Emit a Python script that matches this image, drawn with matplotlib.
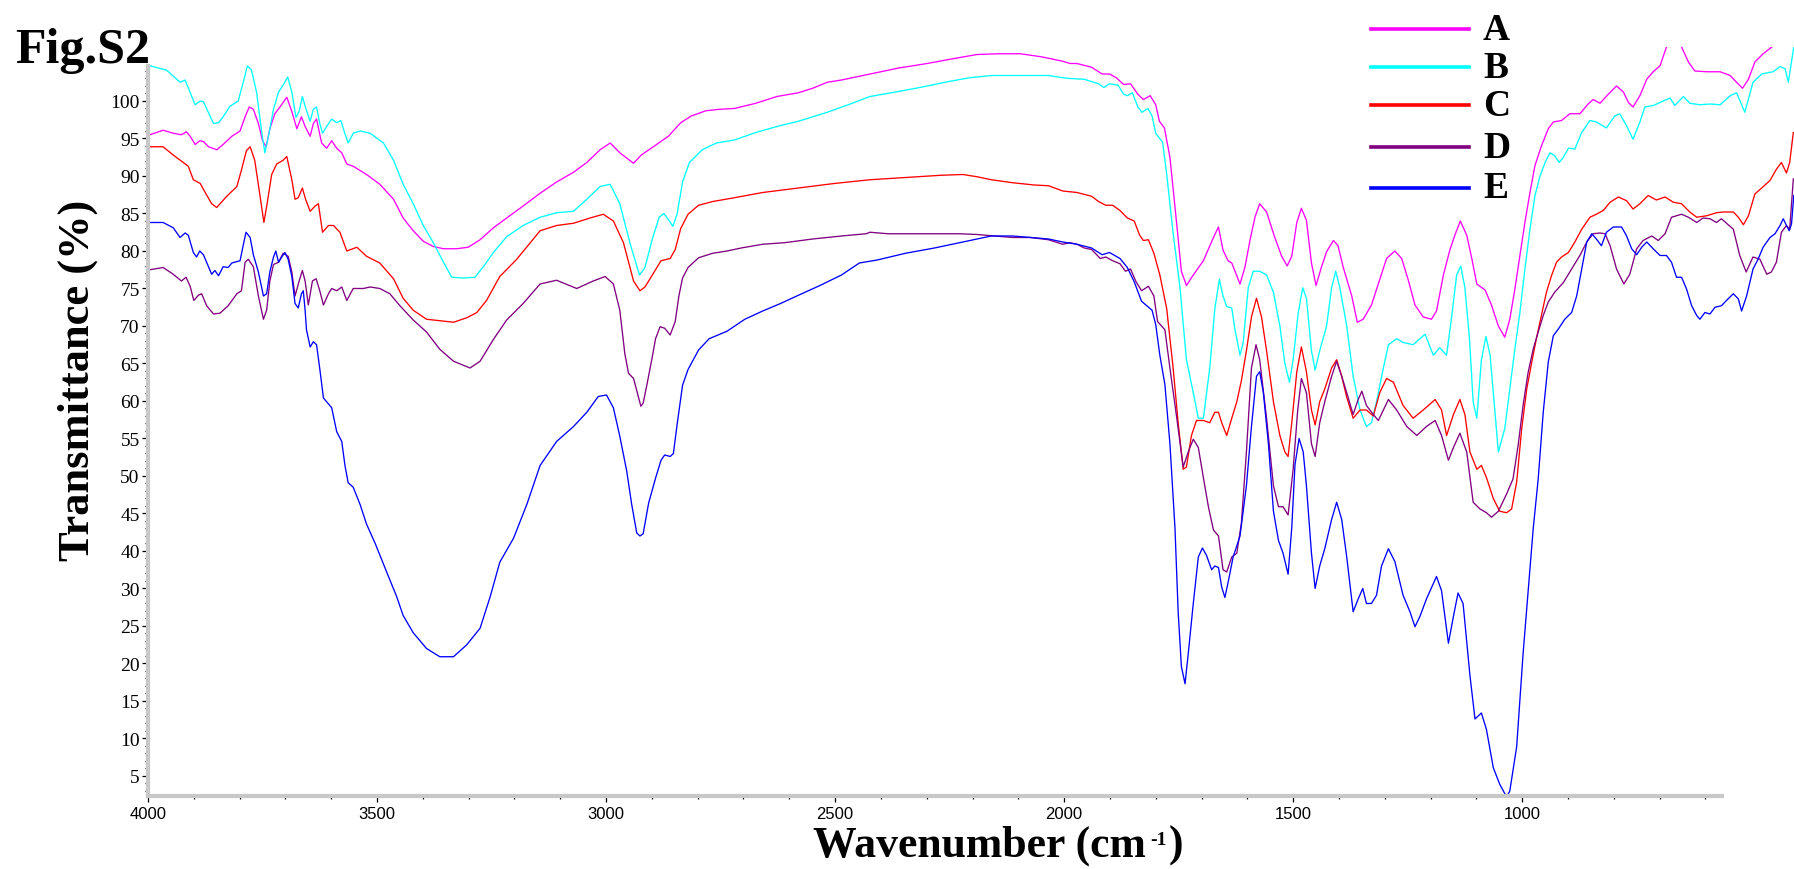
import matplotlib
matplotlib.use('Agg')
import matplotlib.pyplot as plt
from matplotlib.lines import Line2D
from matplotlib.ticker import FixedLocator

# (wavenumber cm-1, transmittance), one list per sample
spec_a = [(4000, 95.5), (3996, 95.5), (3967, 96.1), (3945, 95.7), (3927, 95.5), (3916, 95.9), (3908, 95.3),
          (3897, 94.2), (3887, 94.7), (3879, 94.6), (3868, 93.9), (3850, 93.5), (3836, 94.2), (3817, 95.3),
          (3799, 96.0), (3788, 97.9), (3779, 99.2), (3770, 98.9), (3759, 97.0), (3750, 94.7), (3742, 93.9),
          (3734, 96.3), (3723, 98.3), (3712, 99.2), (3697, 100.5), (3686, 98.6), (3675, 96.3), (3665, 97.9),
          (3657, 96.6), (3646, 95.3), (3639, 97.0), (3632, 97.6), (3621, 94.4), (3610, 93.7), (3599, 94.7),
          (3588, 93.7), (3577, 93.1), (3566, 91.6), (3552, 91.3), (3523, 90.2), (3494, 88.9), (3464, 86.9),
          (3443, 84.4), (3421, 82.7), (3399, 81.3), (3377, 80.6), (3355, 80.3), (3326, 80.3), (3301, 80.5),
          (3275, 81.5), (3246, 83.1), (3217, 84.4), (3181, 86.0), (3144, 87.7), (3108, 89.2), (3071, 90.5),
          (3042, 91.8), (3013, 93.5), (2991, 94.4), (2970, 93.1), (2940, 91.7), (2923, 92.8), (2892, 94.1),
          (2864, 95.3), (2837, 97.1), (2814, 98.0), (2782, 98.7), (2751, 98.9), (2720, 99.0), (2673, 99.7),
          (2627, 100.6), (2580, 101.1), (2549, 101.7), (2517, 102.5), (2486, 102.8), (2424, 103.6),
          (2361, 104.4), (2299, 105.0), (2237, 105.7), (2190, 106.2), (2143, 106.3), (2096, 106.3),
          (2050, 105.9), (2003, 105.3), (1987, 105.0), (1972, 105.0), (1940, 104.5), (1917, 103.6),
          (1901, 103.6), (1886, 103.1), (1870, 102.2), (1855, 102.3), (1839, 100.9), (1827, 100.2),
          (1812, 100.7), (1800, 99.5), (1792, 97.3), (1781, 96.4), (1769, 92.5), (1754, 83.5), (1744, 77.3),
          (1733, 75.4), (1718, 76.8), (1696, 78.7), (1674, 81.8), (1663, 83.2), (1653, 80.1), (1642, 78.7),
          (1634, 78.4), (1616, 75.6), (1605, 77.9), (1594, 81.5), (1583, 84.6), (1573, 86.3), (1558, 85.2),
          (1540, 81.8), (1525, 79.3), (1513, 78.0), (1503, 79.3), (1492, 83.8), (1482, 85.7), (1471, 84.1),
          (1460, 78.4), (1450, 75.4), (1438, 77.9), (1427, 79.9), (1412, 81.4), (1402, 80.7), (1391, 77.9),
          (1372, 74.0), (1360, 70.5), (1347, 70.9), (1329, 72.8), (1311, 76.2), (1296, 79.0), (1278, 80.0),
          (1263, 79.0), (1249, 76.2), (1234, 72.8), (1216, 71.2), (1198, 70.9), (1187, 72.0), (1172, 76.8),
          (1158, 80.1), (1147, 82.1), (1135, 84.0), (1121, 82.1), (1110, 79.0), (1099, 75.6), (1081, 74.8),
          (1067, 72.8), (1052, 70.0), (1038, 68.5), (1027, 70.9), (1016, 74.9), (1005, 79.4), (994, 83.8),
          (983, 87.8), (972, 91.4), (958, 94.0), (943, 96.3), (932, 97.2), (914, 97.4), (896, 98.3),
          (874, 98.3), (856, 99.6), (845, 100.2), (830, 99.7), (812, 100.9), (794, 102.0), (779, 101.2),
          (768, 99.8), (758, 99.2), (743, 100.7), (728, 102.9), (714, 103.9), (699, 104.7), (685, 107.2),
          (669, 109.0), (652, 107.2), (637, 105.2), (623, 104.0), (597, 103.9), (568, 103.9), (546, 103.4),
          (532, 102.5), (519, 101.7), (506, 102.9), (492, 105.2), (474, 106.3), (455, 107.2), (437, 108.5),
          (407, 110.0)]

spec_b = [(4000, 104.7), (3996, 104.7), (3959, 104.1), (3930, 102.5), (3919, 102.8), (3897, 99.5), (3886, 100.0),
          (3879, 99.9), (3857, 97.0), (3846, 97.1), (3836, 97.9), (3821, 99.3), (3803, 100.0), (3792, 102.5),
          (3783, 104.7), (3774, 104.1), (3763, 101.2), (3752, 96.0), (3745, 93.1), (3737, 95.3), (3726, 98.9),
          (3715, 101.2), (3705, 102.1), (3695, 103.2), (3686, 101.2), (3677, 97.8), (3670, 98.6), (3663, 100.6),
          (3657, 99.3), (3646, 97.3), (3639, 98.9), (3632, 99.2), (3625, 97.0), (3619, 95.7), (3610, 96.6),
          (3599, 97.6), (3588, 97.1), (3579, 97.4), (3572, 96.0), (3563, 94.4), (3552, 95.7), (3537, 96.0),
          (3515, 95.7), (3486, 94.4), (3464, 92.1), (3443, 88.9), (3421, 86.3), (3399, 83.4), (3377, 81.1),
          (3355, 78.5), (3337, 76.5), (3312, 76.4), (3286, 76.5), (3268, 77.9), (3246, 79.8), (3217, 81.9),
          (3181, 83.4), (3144, 84.5), (3108, 85.1), (3071, 85.3), (3042, 86.9), (3013, 88.6), (2991, 88.9),
          (2970, 86.3), (2948, 81.1), (2927, 76.8), (2915, 77.8), (2899, 81.6), (2884, 84.5), (2874, 85.0),
          (2864, 84.2), (2854, 83.3), (2845, 84.9), (2833, 89.2), (2818, 91.8), (2790, 93.5), (2759, 94.4),
          (2720, 94.8), (2673, 95.8), (2627, 96.6), (2580, 97.3), (2517, 98.5), (2471, 99.5), (2424, 100.6),
          (2377, 101.1), (2315, 101.8), (2252, 102.6), (2206, 103.1), (2159, 103.4), (2112, 103.4),
          (2065, 103.4), (2034, 103.4), (2003, 103.1), (1987, 103.0), (1956, 102.9), (1925, 102.3),
          (1913, 101.8), (1901, 102.3), (1882, 102.1), (1870, 100.9), (1862, 100.7), (1851, 101.1),
          (1839, 99.2), (1830, 98.5), (1817, 99.0), (1808, 98.0), (1800, 95.7), (1785, 94.5), (1776, 90.2),
          (1762, 82.4), (1747, 75.1), (1733, 65.5), (1718, 61.1), (1707, 57.7), (1696, 57.7), (1682, 64.4),
          (1671, 72.3), (1661, 76.2), (1653, 74.0), (1645, 72.6), (1634, 72.4), (1627, 69.5), (1616, 66.1),
          (1609, 67.8), (1598, 75.1), (1587, 77.3), (1573, 77.3), (1558, 76.8), (1543, 74.5), (1529, 70.0),
          (1518, 65.0), (1508, 62.5), (1500, 65.5), (1489, 71.7), (1479, 75.1), (1471, 73.7), (1460, 66.7),
          (1452, 64.1), (1442, 66.7), (1427, 70.0), (1416, 75.1), (1407, 77.3), (1398, 75.1), (1383, 70.0),
          (1369, 63.3), (1354, 58.8), (1340, 56.6), (1329, 57.1), (1318, 59.9), (1303, 64.4), (1292, 67.5),
          (1274, 68.3), (1260, 67.8), (1238, 67.5), (1223, 68.3), (1212, 68.9), (1201, 67.2), (1194, 66.1),
          (1180, 67.1), (1165, 66.1), (1154, 71.2), (1143, 76.8), (1134, 78.0), (1125, 75.1), (1115, 68.3),
          (1107, 59.9), (1099, 57.7), (1089, 65.5), (1079, 68.6), (1070, 66.1), (1063, 61.1), (1052, 53.2),
          (1038, 56.3), (1027, 61.6), (1016, 66.9), (1005, 71.8), (994, 77.6), (983, 82.9), (972, 87.4),
          (961, 90.0), (950, 91.8), (939, 93.1), (929, 92.7), (919, 91.8), (910, 92.5), (899, 93.7),
          (885, 93.6), (870, 95.8), (852, 97.4), (838, 97.2), (816, 96.4), (798, 98.0), (787, 98.3),
          (772, 96.7), (758, 94.9), (743, 97.2), (732, 99.2), (714, 99.4), (692, 100.0), (677, 100.4),
          (667, 99.4), (648, 100.6), (634, 99.7), (612, 99.5), (590, 99.6), (568, 99.5), (546, 100.7),
          (532, 101.1), (514, 98.5), (496, 102.5), (477, 103.6), (452, 103.9), (437, 104.6), (426, 104.3),
          (419, 102.5), (412, 105.2), (407, 107.2)]

spec_c = [(4000, 93.9), (3996, 93.9), (3967, 93.9), (3945, 92.8), (3923, 91.8), (3912, 91.3), (3901, 89.5),
          (3886, 89.0), (3876, 87.9), (3861, 86.3), (3850, 85.8), (3828, 87.3), (3806, 88.6), (3796, 90.8),
          (3785, 93.4), (3777, 93.9), (3767, 92.1), (3756, 87.6), (3747, 83.8), (3740, 86.3), (3730, 90.2),
          (3719, 91.6), (3705, 92.1), (3697, 92.6), (3686, 89.5), (3679, 86.9), (3672, 87.1), (3663, 88.4),
          (3656, 86.9), (3646, 85.3), (3635, 86.0), (3628, 86.3), (3619, 82.5), (3606, 83.4), (3595, 83.4),
          (3581, 82.5), (3566, 80.0), (3544, 80.5), (3523, 79.3), (3494, 78.4), (3464, 76.3), (3443, 73.7),
          (3421, 72.1), (3392, 70.9), (3363, 70.7), (3333, 70.5), (3304, 71.1), (3282, 71.8), (3261, 73.4),
          (3232, 76.6), (3195, 78.9), (3144, 82.7), (3108, 83.4), (3071, 83.7), (3035, 84.4), (3006, 84.9),
          (2984, 84.0), (2962, 81.1), (2940, 76.0), (2926, 74.7), (2915, 75.2), (2899, 76.8), (2880, 78.7),
          (2860, 79.0), (2849, 80.2), (2837, 83.0), (2821, 84.9), (2798, 86.1), (2767, 86.6), (2720, 87.1),
          (2658, 87.8), (2580, 88.4), (2502, 89.0), (2424, 89.5), (2346, 89.8), (2268, 90.1), (2221, 90.2),
          (2190, 89.9), (2159, 89.5), (2112, 89.1), (2065, 88.8), (2034, 88.7), (2003, 88.0), (1972, 87.8),
          (1940, 87.3), (1925, 86.6), (1909, 86.1), (1894, 86.1), (1878, 85.4), (1862, 84.4), (1847, 84.0),
          (1835, 82.1), (1827, 81.4), (1816, 81.5), (1804, 79.7), (1791, 76.8), (1776, 72.3), (1762, 64.4),
          (1751, 57.1), (1740, 50.9), (1733, 51.2), (1722, 55.4), (1711, 57.4), (1696, 57.4), (1682, 57.1),
          (1671, 58.5), (1663, 58.5), (1656, 57.1), (1645, 55.4), (1634, 57.7), (1623, 59.9), (1613, 62.7),
          (1602, 66.7), (1591, 71.2), (1580, 73.7), (1569, 71.2), (1558, 66.7), (1543, 59.9), (1529, 55.4),
          (1518, 53.2), (1511, 52.6), (1503, 57.1), (1492, 63.9), (1482, 67.2), (1471, 63.9), (1460, 58.8),
          (1452, 56.8), (1442, 59.9), (1431, 61.6), (1416, 64.4), (1405, 65.5), (1394, 63.3), (1383, 60.5),
          (1369, 57.7), (1354, 58.8), (1340, 58.8), (1325, 58.0), (1311, 61.1), (1296, 63.0), (1281, 62.5),
          (1260, 59.4), (1238, 57.7), (1216, 58.8), (1190, 60.2), (1176, 58.8), (1165, 55.4), (1150, 58.2),
          (1136, 60.2), (1125, 58.2), (1114, 53.2), (1099, 50.9), (1089, 51.4), (1078, 49.8), (1063, 47.0),
          (1049, 45.3), (1034, 45.1), (1023, 45.6), (1012, 49.2), (1001, 56.3), (990, 61.6), (979, 65.2),
          (969, 68.3), (958, 71.4), (947, 74.5), (936, 76.7), (925, 78.5), (914, 79.2), (899, 79.8),
          (885, 81.2), (870, 82.9), (852, 84.5), (838, 84.9), (823, 85.4), (808, 86.5), (790, 87.2),
          (772, 86.7), (758, 85.6), (743, 86.3), (725, 87.4), (707, 86.8), (688, 87.2), (670, 86.5),
          (652, 86.3), (634, 85.2), (619, 84.5), (597, 84.7), (576, 85.1), (561, 85.2), (539, 85.2),
          (528, 84.5), (517, 83.5), (506, 84.7), (492, 87.6), (477, 88.4), (459, 89.4), (445, 90.9),
          (434, 91.8), (423, 90.4), (416, 91.8), (408, 95.8)]

spec_d = [(4000, 77.5), (3996, 77.5), (3967, 77.8), (3945, 76.9), (3927, 76.0), (3917, 76.5), (3908, 75.3),
          (3900, 73.4), (3890, 74.1), (3883, 74.3), (3872, 72.7), (3857, 71.6), (3843, 71.7), (3825, 72.7),
          (3806, 74.3), (3796, 74.7), (3788, 78.5), (3781, 78.9), (3770, 77.9), (3759, 74.0), (3748, 70.9),
          (3741, 72.1), (3734, 76.0), (3726, 78.2), (3715, 78.5), (3705, 79.7), (3694, 79.3), (3686, 77.2),
          (3679, 74.0), (3670, 76.0), (3663, 77.4), (3657, 76.0), (3650, 72.8), (3641, 76.0), (3633, 76.3),
          (3625, 74.7), (3617, 72.8), (3606, 74.3), (3599, 75.0), (3588, 74.7), (3577, 75.2), (3566, 73.4),
          (3552, 75.0), (3530, 75.0), (3515, 75.2), (3494, 75.0), (3472, 74.3), (3450, 72.7), (3421, 70.8),
          (3392, 69.2), (3363, 66.9), (3333, 65.3), (3297, 64.4), (3275, 65.3), (3246, 68.2), (3217, 70.8),
          (3181, 73.0), (3144, 75.6), (3108, 76.1), (3064, 75.0), (3028, 76.0), (3002, 76.6), (2984, 75.6),
          (2970, 72.1), (2959, 66.3), (2951, 63.7), (2940, 63.0), (2924, 59.3), (2919, 59.7), (2911, 62.1),
          (2899, 65.9), (2892, 68.3), (2882, 69.9), (2872, 69.7), (2860, 68.8), (2849, 70.6), (2841, 74.0),
          (2833, 76.4), (2821, 77.8), (2798, 79.1), (2767, 79.7), (2736, 80.0), (2705, 80.4), (2658, 80.9),
          (2611, 81.1), (2549, 81.6), (2486, 82.0), (2432, 82.3), (2424, 82.5), (2385, 82.3), (2307, 82.3),
          (2229, 82.3), (2190, 82.2), (2151, 82.0), (2112, 81.8), (2073, 81.8), (2034, 81.5), (2003, 80.9),
          (1987, 81.1), (1972, 80.9), (1956, 80.4), (1940, 80.2), (1921, 79.0), (1909, 79.2), (1894, 78.7),
          (1878, 78.3), (1866, 77.3), (1855, 77.6), (1843, 75.9), (1831, 74.7), (1816, 75.3), (1804, 74.0),
          (1796, 70.6), (1780, 69.5), (1769, 64.4), (1754, 57.7), (1740, 51.2), (1729, 53.2), (1718, 54.9),
          (1707, 53.8), (1696, 49.8), (1685, 45.9), (1674, 42.8), (1663, 42.0), (1653, 37.5), (1645, 37.2),
          (1634, 39.2), (1623, 39.7), (1613, 43.7), (1602, 53.2), (1591, 64.4), (1581, 67.5), (1573, 65.5),
          (1558, 57.7), (1543, 48.7), (1532, 45.9), (1522, 45.9), (1511, 44.8), (1500, 50.9), (1490, 58.8),
          (1482, 63.0), (1471, 61.1), (1460, 54.3), (1452, 52.6), (1442, 57.1), (1431, 59.9), (1416, 63.3),
          (1405, 65.3), (1394, 63.3), (1383, 61.1), (1369, 58.2), (1358, 60.2), (1350, 61.3), (1340, 59.4),
          (1325, 58.2), (1314, 57.4), (1303, 58.8), (1292, 60.2), (1274, 58.8), (1252, 56.6), (1230, 55.4),
          (1209, 56.6), (1190, 57.4), (1176, 55.4), (1161, 52.1), (1150, 53.8), (1136, 55.7), (1121, 53.2),
          (1107, 46.5), (1092, 45.6), (1078, 45.1), (1067, 44.5), (1052, 45.3), (1034, 47.6), (1020, 49.6),
          (1009, 54.0), (998, 59.4), (987, 63.8), (976, 66.9), (965, 69.2), (954, 71.4), (943, 73.2),
          (929, 74.5), (910, 75.8), (892, 77.6), (874, 79.4), (859, 81.2), (845, 82.3), (830, 82.4),
          (819, 82.3), (808, 80.7), (794, 77.6), (778, 75.6), (765, 76.9), (750, 80.3), (736, 81.4),
          (717, 82.0), (703, 81.4), (688, 82.3), (674, 84.5), (663, 84.7), (652, 84.9), (637, 84.5),
          (619, 83.8), (605, 84.4), (590, 84.3), (576, 83.8), (565, 84.3), (554, 83.7), (539, 82.9),
          (525, 79.4), (511, 77.2), (496, 79.2), (481, 78.9), (466, 76.9), (456, 77.2), (445, 78.5),
          (434, 82.5), (423, 83.4), (416, 82.9), (408, 89.6)]

spec_e = [(4000, 83.8), (3996, 83.8), (3967, 83.8), (3945, 83.1), (3930, 81.8), (3919, 82.4), (3912, 82.1),
          (3901, 79.8), (3894, 79.2), (3887, 80.0), (3879, 79.5), (3868, 77.9), (3861, 76.9), (3854, 77.4),
          (3846, 76.7), (3836, 77.9), (3825, 77.8), (3817, 78.4), (3799, 78.7), (3792, 80.8), (3786, 82.5),
          (3777, 81.8), (3770, 79.5), (3759, 77.2), (3748, 74.0), (3741, 74.3), (3734, 77.2), (3726, 79.2),
          (3721, 80.0), (3715, 78.5), (3708, 79.2), (3701, 79.8), (3694, 78.9), (3686, 76.6), (3679, 73.0),
          (3672, 72.4), (3665, 74.3), (3661, 74.7), (3657, 72.1), (3654, 69.5), (3646, 67.2), (3639, 67.9),
          (3632, 67.5), (3625, 64.3), (3617, 60.4), (3599, 59.1), (3588, 55.9), (3577, 54.6), (3570, 51.4),
          (3563, 49.1), (3552, 48.5), (3537, 46.2), (3523, 43.6), (3504, 41.0), (3479, 37.2), (3457, 33.9),
          (3443, 31.4), (3421, 29.1), (3392, 27.0), (3363, 25.9), (3333, 25.9), (3304, 27.5), (3275, 29.7),
          (3253, 33.9), (3232, 38.5), (3202, 41.7), (3173, 46.2), (3144, 51.4), (3108, 54.6), (3071, 56.6),
          (3042, 58.5), (3017, 60.6), (2999, 60.8), (2984, 59.1), (2970, 55.3), (2955, 50.7), (2944, 46.2),
          (2933, 42.4), (2926, 42.0), (2919, 42.3), (2907, 46.4), (2892, 49.7), (2880, 52.1), (2872, 52.8),
          (2860, 52.6), (2853, 53.0), (2845, 56.8), (2833, 62.1), (2821, 64.2), (2798, 66.8), (2775, 68.3),
          (2736, 69.3), (2697, 70.9), (2658, 72.0), (2619, 73.0), (2580, 74.1), (2533, 75.4), (2486, 76.8),
          (2447, 78.4), (2408, 78.8), (2346, 79.7), (2283, 80.4), (2221, 81.2), (2159, 82.0), (2112, 82.0),
          (2073, 81.8), (2034, 81.6), (2003, 81.2), (1972, 80.9), (1940, 80.4), (1917, 79.5), (1901, 79.8),
          (1878, 79.0), (1862, 77.8), (1847, 75.9), (1831, 73.3), (1808, 72.1), (1800, 70.2), (1791, 66.1),
          (1780, 62.2), (1769, 54.3), (1758, 43.1), (1751, 31.9), (1744, 24.6), (1736, 22.3), (1729, 26.3),
          (1718, 33.0), (1707, 39.2), (1698, 40.4), (1689, 39.4), (1678, 37.5), (1671, 38.0), (1663, 37.8),
          (1656, 35.2), (1649, 33.8), (1642, 35.8), (1631, 39.2), (1616, 42.0), (1602, 48.7), (1591, 56.6),
          (1580, 63.3), (1573, 63.9), (1565, 61.1), (1554, 54.3), (1543, 45.3), (1532, 41.4), (1522, 39.7),
          (1511, 36.9), (1503, 43.1), (1496, 51.5), (1487, 55.0), (1478, 53.2), (1471, 48.7), (1460, 39.7),
          (1452, 35.0), (1442, 38.0), (1431, 40.3), (1416, 44.2), (1405, 46.5), (1394, 44.2), (1383, 39.2),
          (1369, 31.9), (1358, 33.6), (1348, 35.0), (1340, 33.0), (1329, 33.0), (1318, 34.1), (1307, 38.0),
          (1292, 40.3), (1278, 38.6), (1260, 34.1), (1245, 31.9), (1234, 29.9), (1223, 31.3), (1209, 33.6),
          (1187, 36.6), (1176, 34.7), (1161, 27.7), (1150, 31.3), (1140, 34.4), (1129, 33.0), (1114, 23.4),
          (1103, 17.6), (1089, 18.4), (1078, 16.2), (1063, 11.1), (1049, 8.9), (1034, 7.2), (1027, 8.0),
          (1012, 13.9), (998, 26.3), (976, 42.9), (965, 49.6), (954, 58.5), (943, 65.2), (932, 68.7),
          (921, 69.6), (907, 70.9), (892, 71.8), (881, 74.0), (870, 77.6), (859, 81.2), (848, 82.3),
          (838, 81.6), (827, 80.7), (816, 82.5), (801, 83.2), (783, 83.2), (772, 82.0), (761, 80.3),
          (750, 79.5), (739, 80.5), (728, 81.2), (714, 80.3), (699, 79.4), (685, 79.4), (674, 78.5),
          (663, 76.5), (652, 76.5), (641, 74.9), (630, 72.7), (619, 71.4), (612, 70.9), (601, 71.8),
          (590, 71.6), (579, 72.5), (565, 72.7), (554, 73.4), (539, 74.3), (528, 73.6), (521, 72.0),
          (510, 74.0), (496, 77.6), (485, 78.9), (474, 80.5), (459, 81.8), (448, 82.3), (437, 83.4),
          (430, 84.3), (423, 83.4), (417, 82.7), (412, 83.6), (407, 87.4)]

names = ['A', 'B', 'C', 'D', 'E']
colors = ['#ff00ff', '#00ffff', '#ff0000', '#800080', '#0000ff']

# the printed y scale skips 35: evenly spaced ticks carry these labels
ytick_pos = [10, 15, 20, 25, 30, 35, 40, 45, 50, 55, 60, 65, 70, 75, 80, 85, 90, 95, 100]
ytick_lab = ['5', '10', '15', '20', '25', '30', '40', '45', '50', '55', '60', '65', '70', '75', '80',
             '85', '90', '95', '100']
xtick_pos = [4000, 3500, 3000, 2500, 2000, 1500, 1000]

plt.rcParams['font.family'] = ['Liberation Serif', 'DejaVu Serif']

W, H = 1794, 870
fig = plt.figure(figsize=(W / 100, H / 100), dpi=100)
ax = fig.add_axes([148 / W, 73 / H, 1649 / W, 749 / H])

for spec, c in zip([spec_a, spec_b, spec_c, spec_d, spec_e], colors):
    wn, tr = zip(*spec)
    ax.plot(wn, tr, color=c, lw=0.95)

ax.set_xlim(4000, 400)
ax.set_ylim(7.33, 107.2)

for s in ['top', 'right']:
    ax.spines[s].set_visible(False)
for s in ['left', 'bottom']:
    ax.spines[s].set_color('#c8c8c8')
    ax.spines[s].set_linewidth(3)
ax.spines['left'].set_bounds(7.33, 104.7)
ax.spines['bottom'].set_bounds(4000, 564)

ax.set_yticks(ytick_pos)
ax.set_yticklabels(ytick_lab)
ax.yaxis.set_minor_locator(FixedLocator([v for v in range(8, 105) if v % 5]))
ax.set_xticks(xtick_pos)
ax.set_xticklabels([str(v) for v in xtick_pos])
ax.xaxis.set_minor_locator(FixedLocator([v for v in range(3900, 590, -100) if v % 500]))

ax.tick_params(which='major', direction='out', length=4, width=0.9, color='black', pad=2)
ax.tick_params(which='minor', direction='out', length=2.5, width=0.9, color='black')
ax.tick_params(axis='y', labelsize=14)
ax.tick_params(axis='x', labelsize=12, pad=3)
for lab in ax.get_xticklabels():
    lab.set_family('Liberation Sans')

fig.text(15 / W, 1 - 63 / H, 'Fig.S2', fontsize=36, fontweight='bold', va='baseline', ha='left')
fig.text(78 / W, 1 - 380 / H, 'Transmittance (%)', fontsize=32, fontweight='bold',
         rotation=90, ha='center', va='center')

# x label with a hand placed superscript, built left to right
base = 1 - 857 / H
t1 = fig.text(813 / W, base, 'Wavenumber (cm', fontsize=31.5, fontweight='bold', va='baseline')
fig.canvas.draw()
x1 = t1.get_window_extent().x1
t2 = fig.text((x1 + 4) / W, 1 - 845 / H, '-1', fontsize=14, fontweight='bold', va='baseline')
fig.canvas.draw()
x2 = t2.get_window_extent().x1
fig.text((x2 + 2) / W, base, ')', fontsize=31.5, fontweight='bold', va='baseline')

# legend drawn at the top right, line then letter
legend_y = [30, 68, 106, 148, 189]
for name, c, yy in zip(names, colors, legend_y):
    fig.add_artist(Line2D([1371 / W, 1469 / W], [1 - yy / H, 1 - yy / H], color=c, lw=2.6,
                          transform=fig.transFigure))
    fig.text(1483 / W, 1 - yy / H, name, fontsize=27, fontweight='bold', ha='left', va='center')

fig.savefig('out.png', dpi=100)
